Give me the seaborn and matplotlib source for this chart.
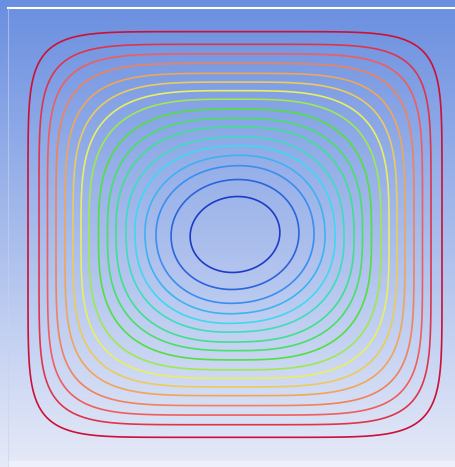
import numpy as np
import matplotlib
matplotlib.use("Agg")
import matplotlib.pyplot as plt
import seaborn as sns

# ---- data (pixel units of the 456x467 image) ----
# distance (px) from vortex centre to each streamline along the horizontal axis
level_dist_px = [45, 64, 79, 90, 100, 109, 119, 127.5, 136.5, 146, 154, 162, 170, 179, 187.5, 196, 207]
# vortex centre and reference radius
centre_x, centre_y = 235.0, 234.5
ref_radius = 207.0
# vertical / horizontal aspect of the inner and outer streamlines
aspect_inner, aspect_outer = 0.80, 0.98
# superellipse exponent for inner and outer streamlines
exp_inner, exp_outer = 2.0, 7.0
# tilt of the innermost streamlines (radians)
tilt_inner = 0.25
# line colours from inner (blue) to outer (red)
line_anchor_colors = ["#1c3cc8", "#3a8ef0", "#40d8f0", "#40e090", "#50e040",
                      "#e8f060", "#f0a858", "#f06060", "#cc1038"]
bg_top, bg_bottom = "#6a8fe0", "#e6eaf8"

W, H = 456, 467
fig = plt.figure(figsize=(W / 100, H / 100), dpi=100)
ax = fig.add_axes([0, 0, 1, 1])
ax.set_xlim(0, W)
ax.set_ylim(H, 0)
ax.axis("off")

# background gradient
grad_cmap = sns.blend_palette([bg_top, bg_bottom], as_cmap=True)
grad = np.linspace(0, 1, 256).reshape(-1, 1)
ax.imshow(grad, cmap=grad_cmap, extent=(0, W, H, 0), aspect="auto", zorder=0)
ax.axhspan(461, H, xmin=8 / W, xmax=1, color="#eef1fb", zorder=1)
ax.axhline(7.5, xmin=8 / W, xmax=1, color="white", lw=1.5, zorder=1)
ax.axvline(8.5, ymin=0, ymax=1 - 8 / H, color="#c8d2f0", lw=0.8, alpha=0.6, zorder=1)

# stream-function-like field: level value N solves norm_N(x, y) = N
xs = np.linspace(0, W, 700)
ys = np.linspace(0, H, 700)
X, Y = np.meshgrid(xs, ys)
u = (X - centre_x) / ref_radius
v = (Y - centre_y) / ref_radius


def shape_norm(N):
    t = np.clip(N, 0, 1)
    th = tilt_inner * np.clip(1 - t / 0.6, 0, 1)
    ur = u * np.cos(th) - v * np.sin(th)
    vr = u * np.sin(th) + v * np.cos(th)
    a = aspect_inner + (aspect_outer - aspect_inner) * t
    p = exp_inner + (exp_outer - exp_inner) * t ** 4
    return (np.abs(ur) ** p + np.abs(vr / a) ** p) ** (1 / p)


lo = np.zeros_like(u)
hi = np.full_like(u, 2.0)
for _ in range(40):
    mid = 0.5 * (lo + hi)
    inside = shape_norm(mid) < mid
    hi = np.where(inside, mid, hi)
    lo = np.where(inside, lo, mid)
field = 0.5 * (lo + hi)

levels = np.array(level_dist_px) / ref_radius
colors = sns.blend_palette(line_anchor_colors, n_colors=len(levels))
ax.contour(X, Y, field, levels=levels, colors=colors, linewidths=1.2, zorder=2)

fig.savefig("out.png", dpi=100)
